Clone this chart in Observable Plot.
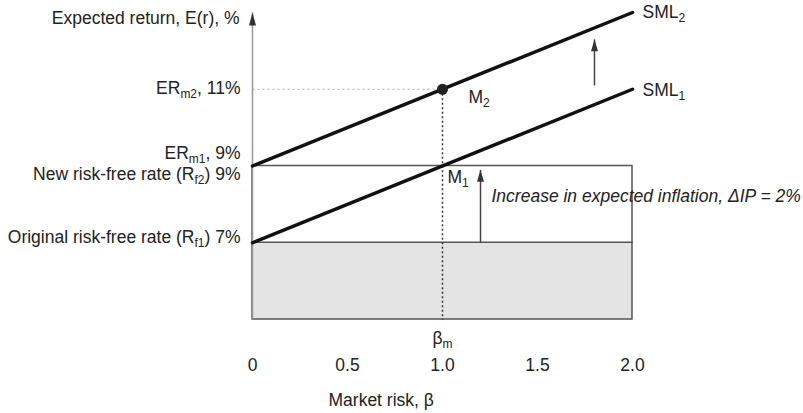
<!DOCTYPE html>
<html>
<head>
<meta charset="utf-8">
<script src="https://cdn.jsdelivr.net/npm/d3@7"></script>
<script src="https://cdn.jsdelivr.net/npm/@observablehq/plot@0.6"></script>
<style>
  html, body { margin: 0; padding: 0; background: #fff; }
  #chart { width: 803px; height: 413px; }
</style>
</head>
<body>
<div id="chart"></div>
<script>
// ---- data ----
const xTicks = [0, 0.5, 1, 1.5, 2];
const xTickLabels = ["0", "0.5", "1.0", "1.5", "2.0"];
const yDomain = [5, 13];
const betaM = 1;
const rf1 = 7;           // original risk-free rate
const rf2 = 9;           // new risk-free rate
const erM1 = 9;
const erM2 = 11;
const sml1 = [{beta: 0, r: 7}, {beta: 2, r: 11}];
const sml2 = [{beta: 0, r: 9}, {beta: 2, r: 13}];
const bands = [{lo: 5, hi: 7}, {lo: 7, hi: 9}];
const bandFills = ["#e4e4e4", "#ffffff"];
const shiftArrows = [{beta: 1.2, from: 7, to: 8.9}, {beta: 1.8, from: 11.1, to: 12.3}];
const yAxisArrow = [{beta: 0, from: 5, to: 13}];

const yTitle = "Expected return, E(r), %";
const labelERm2 = "ER_{m2}, 11%";
const labelERm1 = "ER_{m1}, 9%";
const labelRf2 = "New risk-free rate (R_{f2}) 9%";
const labelRf1 = "Original risk-free rate (R_{f1}) 7%";
const labelSML1 = "SML_{1}";
const labelSML2 = "SML_{2}";
const labelM1 = "M_{1}";
const labelM2 = "M_{2}";
const labelBetaM = "β_{m}";
const labelInflation = "Increase in expected inflation, ΔIP = 2%";
const xTitle = "Market risk, β";

const ink = "#222";
const fs = 17.5;

const plot = Plot.plot({
  width: 803,
  height: 413,
  marginLeft: 252,
  marginRight: 171,
  marginTop: 12,
  marginBottom: 94,
  x: {domain: [0, 2], axis: null},
  y: {domain: yDomain, axis: null},
  style: {fontFamily: "'Liberation Sans', Arial, sans-serif", fontSize: fs + "px", background: "#fff", color: ink},
  marks: [
    // shaded / premium box
    Plot.rect(bands, {x1: 0, x2: 2, y1: "lo", y2: "hi", fill: (d, i) => bandFills[i], stroke: "#555", strokeWidth: 1.5}),
    // y axis with arrow
    Plot.link(yAxisArrow, {x1: "beta", x2: "beta", y1: "from", y2: "to", stroke: "#999", strokeWidth: 1.5}),
    Plot.vector(yAxisArrow, {x: "beta", y: "to", length: 13, rotate: 0, anchor: "end", shape: "spike", r: 3.5, fill: "#333", stroke: "none"}),
    // dotted guides
    Plot.link([{x1: 0, x2: betaM, y: erM2}], {x1: "x1", x2: "x2", y1: "y", y2: "y", stroke: "#aaa", strokeWidth: 1.2, strokeDasharray: "2,3"}),
    Plot.link([{x: betaM, y1: erM2, y2: yDomain[0]}], {x1: "x", x2: "x", y1: "y1", y2: "y2", stroke: "#333", strokeWidth: 1.5, strokeDasharray: "2,2.5"}),
    // shift arrows
    Plot.link(shiftArrows, {x1: "beta", x2: "beta", y1: "from", y2: "to", stroke: "#444", strokeWidth: 1.5}),
    Plot.vector(shiftArrows, {x: "beta", y: "to", length: 12, rotate: 0, anchor: "end", shape: "spike", r: 3.5, fill: "#333", stroke: "none"}),
    // SML lines
    Plot.line(sml1, {x: "beta", y: "r", stroke: "#111", strokeWidth: 3.5}),
    Plot.line(sml2, {x: "beta", y: "r", stroke: "#111", strokeWidth: 3.5}),
    Plot.dot([{beta: betaM, r: erM2}], {x: "beta", y: "r", r: 5.5, fill: "#222", stroke: "none"}),
    // left labels
    Plot.text([yTitle], {x: 0, y: yDomain[1], text: d => d, textAnchor: "end", dx: -13, dy: 6, fill: ink, fontSize: fs}),
    Plot.text([labelERm2], {x: 0, y: erM2, text: d => d, textAnchor: "end", dx: -12, dy: -1, fill: ink, fontSize: fs}),
    Plot.text([labelERm1], {x: 0, y: erM1, text: d => d, textAnchor: "end", dx: -12, dy: -13, fill: ink, fontSize: fs}),
    Plot.text([labelRf2], {x: 0, y: rf2, text: d => d, textAnchor: "end", dx: -12, dy: 8, fill: ink, fontSize: fs}),
    Plot.text([labelRf1], {x: 0, y: rf1, text: d => d, textAnchor: "end", dx: -12, dy: -5, fill: ink, fontSize: fs}),
    // line labels
    Plot.text([labelSML2], {x: 2, y: 13, text: d => d, textAnchor: "start", dx: 10, dy: 0, fill: ink, fontSize: fs}),
    Plot.text([labelSML1], {x: 2, y: 11, text: d => d, textAnchor: "start", dx: 10, dy: 1, fill: ink, fontSize: fs}),
    Plot.text([labelM2], {x: betaM, y: erM2, text: d => d, textAnchor: "start", dx: 26, dy: 8, fill: ink, fontSize: fs}),
    Plot.text([labelM1], {x: betaM, y: rf2, text: d => d, textAnchor: "start", dx: 5, dy: 11, fill: ink, fontSize: fs}),
    Plot.text([labelInflation], {x: 1.2, y: rf2, text: d => d, textAnchor: "start", dx: 11, dy: 30, fill: ink, fontSize: fs, fontStyle: "italic"}),
    // x axis labels
    Plot.text([labelBetaM], {x: betaM, y: yDomain[0], text: d => d, dy: 19, fill: ink, fontSize: fs}),
    Plot.text(xTicks, {x: d => d, y: yDomain[0], text: (d, i) => xTickLabels[i], dy: 46, fill: ink, fontSize: fs}),
    Plot.text([xTitle], {x: 0, y: yDomain[0], text: d => d, textAnchor: "start", dx: 76, dy: 81, fill: ink, fontSize: fs})
  ]
});

// render "_{...}" as subscripts
const SVGNS = "http://www.w3.org/2000/svg";
plot.querySelectorAll("text").forEach(t => {
  const s = t.textContent;
  if (!s.includes("_{")) return;
  const parts = s.split(/(_\{[^}]*\})/).filter(p => p.length);
  t.textContent = "";
  let sub = false;
  parts.forEach(p => {
    const ts = document.createElementNS(SVGNS, "tspan");
    if (p.startsWith("_{")) {
      ts.textContent = p.slice(2, -1);
      ts.setAttribute("font-size", "12px");
      ts.setAttribute("dy", "4");
      sub = true;
    } else {
      ts.textContent = p;
      if (sub) ts.setAttribute("dy", "-4");
      sub = false;
    }
    t.appendChild(ts);
  });
});

document.getElementById("chart").appendChild(plot);
</script>
</body>
</html>
